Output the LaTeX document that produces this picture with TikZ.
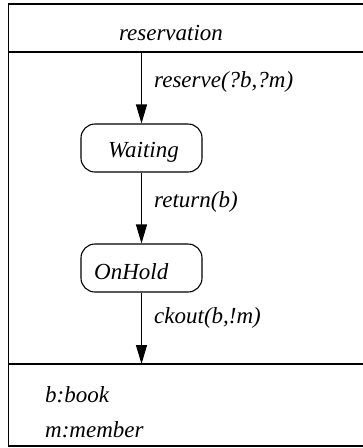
\documentclass[tikz,border=0pt]{standalone}
\usepackage{fontspec}
\setmainfont{Liberation Serif}
\usetikzlibrary{arrows.meta}
\begin{document}
\begin{tikzpicture}[x=1pt,y=-1pt,
  frame/.style={line width=1.2pt},
  txt/.style={inner sep=0pt,font=\fontsize{23}{27}\selectfont\itshape},
  statebox/.style={draw,line width=1.1pt,rounded corners=14pt,minimum width=121pt,minimum height=48pt,inner sep=0pt},
  trans/.style={line width=1.1pt,-{Triangle[length=19pt,width=11pt]}}]
\useasboundingbox (0,0) rectangle (363,448);
\begin{scope}
\clip (0,0) rectangle (363,448);
% class frame with its three compartments
\draw[frame] (8.8,4) rectangle (380,446);
\draw[frame] (8.8,52) -- (380,52);
\draw[frame] (8.8,364) -- (380,364);
\end{scope}
\node[txt] (title) at (171,33) {reservation};
% states
\coordinate (start) at (141.5,52);
\coordinate (finish) at (141.5,364);
\node[statebox] (waiting) at (141.5,148) {};
\node[txt] (waitingtext) at (143.5,152) {Waiting};
\node[statebox] (onhold) at (141.5,268) {};
\node[txt,anchor=west] (onholdtext) at (94,272) {OnHold};
% transitions
\draw[trans] (start) -- (waiting.north);
\draw[trans] (waiting.south) -- (onhold.north);
\draw[trans] (onhold.south) -- (finish);
\node[txt,anchor=west] (lreserve) at (154,82) {reserve(?b,?m)};
\node[txt,anchor=west] (lreturn) at (154,202) {return(b)};
\node[txt,anchor=west] (lckout) at (154,318) {ckout(b,!m)};
% attributes
\node[txt,anchor=west] (attrb) at (45,395) {b:book};
\node[txt,anchor=west] (attrm) at (45,430) {m:member};
\end{tikzpicture}
\end{document}
